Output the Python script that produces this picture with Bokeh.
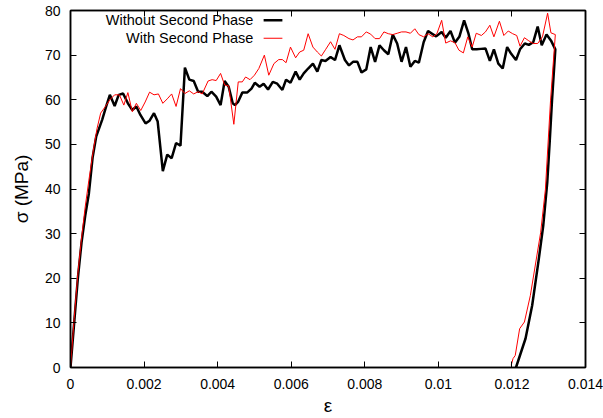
from bokeh.plotting import figure
from bokeh.models import FixedTicker, LinearAxis, Label, BoxAnnotation, Range1d
from bokeh.embed import file_html
from bokeh.resources import INLINE

# ---- data ----
eps_without = [0, 0.0001, 0.0002, 0.0003, 0.0004, 0.0005, 0.0006, 0.0007, 0.00086, 0.00097,
               0.00107, 0.0012, 0.00131, 0.00143, 0.00156, 0.00168, 0.00179, 0.0019, 0.00204, 0.00215,
               0.00227, 0.00237, 0.00251, 0.00263, 0.00275, 0.00287, 0.00299, 0.00311, 0.00323, 0.00335,
               0.00347, 0.00358, 0.00372, 0.00383, 0.00396, 0.00408, 0.00419, 0.0043, 0.00441, 0.00447,
               0.00456, 0.00467, 0.0048, 0.00492, 0.00501, 0.00514, 0.00525, 0.00537, 0.0055, 0.00562,
               0.00576, 0.00586, 0.00598, 0.00612, 0.00623, 0.00634, 0.00646, 0.00659, 0.00671, 0.00682,
               0.00693, 0.00707, 0.00719, 0.00731, 0.00746, 0.00757, 0.00768, 0.0078, 0.00791, 0.00804,
               0.00816, 0.00828, 0.0084, 0.00852, 0.00864, 0.00876, 0.00888, 0.009, 0.00912, 0.00924,
               0.00936, 0.00947, 0.0096, 0.00972, 0.00983, 0.00994, 0.01009, 0.0102, 0.01033, 0.01045,
               0.01057, 0.0107, 0.01082, 0.01092, 0.01104, 0.01116, 0.01128, 0.0114, 0.01151, 0.01163,
               0.01175, 0.01187, 0.01198, 0.01211, 0.01222, 0.01235, 0.01246, 0.01258, 0.0127, 0.01281,
               0.01294, 0.01306, 0.01318,
               0.01309, 0.01303, 0.01296, 0.01285, 0.01273, 0.01255, 0.01237, 0.01211]
sig_without = [0, 10, 20, 28, 34, 39, 47, 51.8, 55.5, 58.5,
               61.1, 58.6, 61.1, 61.4, 59.2, 57.7, 58.5, 56.6, 54.7, 55.3,
               57.0, 55.1, 44.0, 47.7, 46.9, 50.3, 49.7, 67.2, 64.5, 64.2,
               61.8, 61.8, 60.8, 61.8, 60.7, 58.8, 64.2, 62.9, 59.2, 58.8,
               59.6, 61.6, 61.6, 62.5, 63.8, 62.9, 63.6, 62.3, 64.0, 63.6,
               62.2, 64.5, 63.8, 66.3, 64.5, 65.9, 67.0, 68.1, 66.3, 68.9,
               68.7, 69.6, 68.9, 72.2, 68.9, 67.7, 68.5, 68.5, 66.1, 66.8,
               71.8, 68.5, 72.2, 71.1, 70.2, 74.6, 72.6, 68.5, 71.8, 67.4,
               68.7, 68.3, 72.9, 75.4, 74.8, 74.2, 75.2, 73.9, 75.4, 72.8,
               74.1, 77.8, 74.8, 71.3, 71.3, 71.4, 71.5, 68.7, 71.3, 68.1,
               67.0, 71.8, 70.3, 68.9, 71.3, 72.6, 72.3, 72.9, 76.4, 72.2,
               74.6, 73.3, 71.3,
               59.9, 51.0, 41.4, 31.7, 24.3, 13.9, 6.5, 0]

eps_with = [0, 0.0001, 0.0002, 0.0003, 0.0004, 0.0005, 0.00063, 0.00072, 0.00082, 0.00095,
            0.00107, 0.0012, 0.00133, 0.00145, 0.00156, 0.00168, 0.00179, 0.00191, 0.00203, 0.00215,
            0.00227, 0.00239, 0.00251, 0.00263, 0.00275, 0.00287, 0.00299, 0.00311, 0.00323, 0.00335,
            0.00347, 0.00358, 0.00374, 0.00385, 0.00396, 0.00408, 0.00419, 0.0043, 0.00444, 0.00456,
            0.00467, 0.00476, 0.00488, 0.005, 0.00512, 0.00527, 0.00539, 0.00553, 0.00566, 0.00576,
            0.00586, 0.00598, 0.00612, 0.00623, 0.00634, 0.00646, 0.00659, 0.00671, 0.00682, 0.00693,
            0.00707, 0.00719, 0.00731, 0.00743, 0.00757, 0.00768, 0.0078, 0.00791, 0.00804, 0.00816,
            0.00828, 0.0084, 0.00852, 0.00864, 0.00876, 0.00888, 0.009, 0.00912, 0.00924, 0.00936,
            0.00947, 0.0096, 0.00972, 0.00985, 0.00996, 0.01009, 0.0102, 0.01033, 0.01045, 0.01056,
            0.01068, 0.0108, 0.01092, 0.01103, 0.01117, 0.01128, 0.0114, 0.01151, 0.01166, 0.01178,
            0.0119, 0.01202, 0.01213, 0.01222, 0.01234, 0.01246, 0.01258, 0.0127, 0.01283, 0.01297,
            0.01306, 0.01318,
            0.01305, 0.01291, 0.01278, 0.0125, 0.01234, 0.01221, 0.01209, 0.01203, 0.01198]
sig_with = [0, 11, 21, 29, 36, 42, 49.2, 53.5, 57.0, 58.5,
            60.0, 61.1, 61.1, 58.8, 61.6, 57.3, 59.2, 57.6, 59.5, 61.7,
            61.1, 61.3, 59.2, 60.2, 61.3, 58.5, 62.5, 61.4, 62.0, 61.3,
            61.8, 61.3, 64.2, 64.5, 64.3, 65.9, 63.3, 63.1, 54.5, 64.0,
            64.0, 65.1, 64.5, 65.5, 67.0, 70.0, 65.5, 68.1, 69.0, 69.0,
            68.3, 71.8, 69.4, 70.7, 71.1, 74.8, 71.8, 70.7, 69.8, 71.2,
            73.0, 71.3, 74.8, 74.4, 73.7, 73.4, 74.1, 74.1, 75.2, 74.7,
            73.7, 73.7, 75.2, 74.8, 74.6, 74.9, 75.2, 75.2, 74.9, 75.9,
            74.6, 74.1, 74.8, 74.1, 74.8, 77.8, 72.7, 73.2, 72.8, 71.1,
            70.5, 74.1, 71.8, 74.9, 74.4, 75.2, 76.7, 74.1, 77.6, 74.4,
            75.4, 74.8, 74.4, 72.0, 73.9, 73.2, 72.6, 72.6, 74.1, 79.4,
            75.0, 74.6,
            59.9, 39.9, 30.2, 16.1, 10.2, 8.7, 2.7, 2.0, 0.5]

series_names = ["Without Second Phase", "With Second Phase"]
x_ticks = [0, 0.002, 0.004, 0.006, 0.008, 0.010, 0.012, 0.014]
x_tick_labels = ["0", "0.002", "0.004", "0.006", "0.008", "0.01", "0.012", "0.014"]
y_ticks = [0, 10, 20, 30, 40, 50, 60, 70, 80]

FONT = "Liberation Sans"

p = figure(width=603, height=418, output_backend="svg", toolbar_location=None,
           x_range=Range1d(0, 0.014), y_range=Range1d(0, 80),
           min_border_left=70, min_border_right=18, min_border_top=10, min_border_bottom=49)
p.xgrid.visible = False
p.ygrid.visible = False
p.outline_line_color = "black"
p.outline_line_width = 1.5
p.background_fill_color = "white"
p.border_fill_color = "white"

p.line(eps_without, sig_without, line_color="black", line_width=2.5)
p.line(eps_with, sig_with, line_color="#ff0000", line_width=1)

def style_axis(ax):
    ax.major_tick_in = 6
    ax.major_tick_out = 0
    ax.minor_tick_in = 0
    ax.minor_tick_out = 0
    ax.axis_line_color = "black"
    ax.axis_line_width = 1.5
    ax.major_tick_line_width = 1
    ax.major_label_text_font = FONT
    ax.major_label_text_font_size = "14px"
    ax.major_label_text_color = "black"
    ax.axis_label_text_font = FONT
    ax.axis_label_text_font_style = "normal"
    ax.axis_label_text_font_size = "19px"
    ax.axis_label_text_color = "black"

xax = p.xaxis[0]
yax = p.yaxis[0]
xax.ticker = FixedTicker(ticks=x_ticks)
xax.major_label_overrides = {t: l for t, l in zip(x_ticks, x_tick_labels)}
yax.ticker = FixedTicker(ticks=y_ticks)
style_axis(xax)
style_axis(yax)
xax.axis_label = "ε"
yax.axis_label = "σ (MPa)"
xax.major_label_standoff = 11
xax.axis_label_standoff = 3
yax.major_label_standoff = 10
yax.axis_label_standoff = 10

# mirrored ticks on top and right (no labels)
top = LinearAxis(ticker=FixedTicker(ticks=x_ticks), major_label_standoff=0)
right = LinearAxis(ticker=FixedTicker(ticks=y_ticks), major_label_standoff=0)
style_axis(top)
style_axis(right)
top.major_label_overrides = {t: "" for t in x_ticks}
right.major_label_overrides = {t: "" for t in y_ticks}
p.add_layout(top, "above")
p.add_layout(right, "right")

# legend (gnuplot style: text right-aligned, sample to the right)
leg_text_x = 0.00497
leg_y = [77.8, 73.8]
leg_colors = ["black", "#ff0000"]
leg_widths = [0.28, 0.11]
for name, yy, c, w in zip(series_names, leg_y, leg_colors, leg_widths):
    p.add_layout(Label(x=leg_text_x, y=yy, text=name, text_align="right", text_baseline="middle",
                       text_font=FONT, text_font_size="14.5px", text_color="black"))
    p.add_layout(BoxAnnotation(left=0.00525, right=0.00576, bottom=yy - w, top=yy + w,
                               fill_color=c, fill_alpha=1, line_alpha=0))

open("out.html", "w").write(file_html(p, INLINE))
